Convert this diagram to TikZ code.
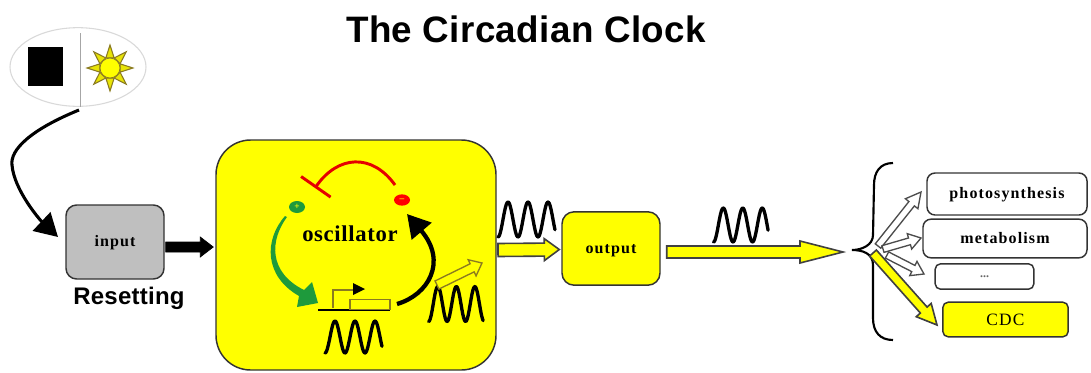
\documentclass[tikz,border=0pt]{standalone}
\usepackage{fontspec}
\setmainfont{Liberation Serif}
\newfontfamily\titlefont[LetterSpace=1]{Liberation Sans}
\newfontfamily\labfont[LetterSpace=7]{Liberation Serif}
\newfontfamily\oscfont[LetterSpace=3]{Liberation Serif}
\usetikzlibrary{calc,arrows.meta,shapes.geometric}
\definecolor{olive}{HTML}{8A7A20}
\definecolor{dgreen}{HTML}{1E9A3C}
\definecolor{oyellow}{HTML}{FFFF00}
\tikzset{
  boxbase/.style={draw=black!80,line width=1.1pt,inner sep=0pt,font=\labfont\bfseries\fontsize{12}{14}\selectfont},
  ybox/.style={boxbase,fill=oyellow},
  wbox/.style={boxbase,fill=white},
  wavy/.style={line width=2.5pt,line join=round,line cap=round},
  blockblack/.style={fill=black,draw=black,line width=.5pt},
  blockyellow/.style={fill=oyellow,draw=black!75,line width=1.2pt},
  blockwhite/.style={fill=white,draw=black!70,line width=1pt},
  blockolive/.style={fill=oyellow,draw=olive,line width=1pt},
  textlab/.style={inner sep=0pt},
}
\newcommand\lowered[1]{\raisebox{-3.5pt}[0pt][0pt]{#1}}
% from, to, half width, half head width, head length (px), style
\newcommand\blockarrow[6]{%
  \coordinate (hb) at ($(#2)!#5*0.75pt!(#1)$);
  \draw[#6] ($(#1)!#3*0.75pt!90:(#2)$) -- ($(hb)!#3*0.75pt!-90:(#1)$)
    -- ($(hb)!#4*0.75pt!-90:(#1)$) -- (#2) -- ($(hb)!#4*0.75pt!90:(#1)$)
    -- ($(hb)!#3*0.75pt!90:(#1)$) -- ($(#1)!#3*0.75pt!-90:(#2)$) -- cycle;
}
% valley x, centre y, period, amplitude, periods
\newcommand\wavecurve[5]{%
  \draw[wavy] plot[domain=0:#5,samples=70,smooth,variable=\t]
    ({#1+#3*\t},{#2+#4*cos(360*\t)});
}
\begin{document}
\begin{tikzpicture}[x=0.75pt,y=-0.75pt]
\useasboundingbox (0,0) rectangle (1091,372);
\fill[white] (0,0) rectangle (1091,372);

% title
\node[textlab,font=\titlefont\bfseries\fontsize{27.6}{30}\selectfont] (title) at (526,29) {The Circadian Clock};

% day / night
\node[ellipse,draw=black!15,fill=white,line width=.8pt,minimum width=102pt,minimum height=59pt,inner sep=0pt] (daynight) at (78,67) {};
\draw[black!35,line width=.7pt] (80,33) -- (80,107);
\node[fill=black,minimum width=26pt,minimum height=29pt,inner sep=0pt] (night) at (45.5,66.5) {};
\foreach \a in {0,45,...,315}{
  \fill[oyellow!80!olive,draw=olive,line width=.8pt] ($(110,68)+(\a-22:11)$) -- ($(110,68)+(\a:23)$) -- ($(110,68)+(\a+22:11)$) -- cycle;
}
\node[circle,fill=oyellow,draw=olive,line width=.6pt,minimum size=15pt,inner sep=0pt] (sun) at (110,68) {};

% input
\node[boxbase,fill=black!25,rounded corners=8pt,minimum width=73.5pt,minimum height=55.5pt] (input) at (115,242) {\lowered{input}};
\node[textlab,font=\titlefont\bfseries\fontsize{18}{20}\selectfont] (resetting) at (129,298) {Resetting};
\coordinate (lightstart) at (79,110);
\coordinate (lightend) at (58,237);
\draw[line width=2.3pt,-{Triangle[length=17pt,width=19pt]}] (lightstart) .. controls (30,130) and (10,150) .. (12,165) .. controls (14,190) and (40,220) .. (lightend);

% oscillator box
\node[ybox,rounded corners=26pt,minimum width=210pt,minimum height=172.5pt] (osc) at (356,255) {};
\node[textlab,font=\oscfont\bfseries\fontsize{17}{19}\selectfont] (osclabel) at (350,234) {oscillator};
\coordinate (inA) at ($(input.east)+(1,5)$);
\coordinate (inB) at ($(osc.west)+(-2,-8)$);
\blockarrow{inA}{inB}{5}{10}{13}{blockblack}

% regulatory loop
\node[ellipse,fill=red,text=oyellow,minimum width=12pt,minimum height=8.5pt,inner sep=0pt,font=\bfseries\fontsize{7}{7}\selectfont] (minus) at (402,200) {--};
\node[ellipse,fill=dgreen,text=oyellow,minimum width=12pt,minimum height=9pt,inner sep=0pt,font=\bfseries\fontsize{7}{7}\selectfont] (plus) at (297,207) {+};
\coordinate (redend) at (315,188);
\draw[red!90!black,line width=2.2pt,-{Bar[width=27pt,line width=2.2pt]}] (395,185) .. controls (372,153) and (338,155) .. (redend);
\fill[dgreen] (287,217) .. controls (270,240) and (268,272) .. (304,290) -- (312,282) -- (318,303) -- (297,307) -- (299,296) .. controls (264,276) and (264,240) .. (285,216) -- cycle;

% gene
\coordinate (geneL) at (318,310);
\coordinate (geneR) at (390,310);
\draw[line width=1pt] (geneL) -- (geneR);
\node[draw=olive,fill=oyellow,line width=1pt,minimum width=30pt,minimum height=7.5pt,inner sep=0pt] (gene) at (370,304.5) {};
\draw[olive,line width=1pt] (333,308) -- (333,290) -- (353,290);
\fill[black] (365,289) -- (353,283) -- (353,295) -- cycle;
\coordinate (blackstart) at (397,304);
\coordinate (blacktip) at (407,214);
\draw[line width=3.2pt,-{Triangle[length=17pt,width=19pt]}] (blackstart) .. controls (428,295) and (448,262) .. (blacktip);
\wavecurve{325}{337}{20}{16}{2.85}

% output of oscillator
\wavecurve{428.6}{304}{18.5}{17.5}{2.95}
\coordinate (hollowA) at (437,285);
\coordinate (hollowB) at (482,263);
\blockarrow{hollowA}{hollowB}{4.5}{9}{11}{blockolive}

% to output
\node[ybox,rounded corners=9pt,minimum width=73.5pt,minimum height=55pt] (output) at (611,248.5) {\lowered{output}};
\wavecurve{498}{219.5}{20}{17.5}{2.85}
\coordinate (outA) at (498,250);
\coordinate (outB) at ($(output.west)+(-2,1)$);
\blockarrow{outA}{outB}{6.5}{11}{15}{blockyellow}

% long arrow
\coordinate (longA) at ($(output.east)+(6,3.5)$);
\coordinate (longB) at (843,252);
\blockarrow{longA}{longB}{6}{11}{43}{blockyellow}
\wavecurve{713.5}{225}{19.5}{17}{2.8}

% targets
\node[wbox,rounded corners=6pt,minimum width=120pt,minimum height=31.5pt] (photo) at (1007,194) {\lowered{photosynthesis}};
\node[wbox,rounded corners=6pt,minimum width=123pt,minimum height=29pt] (metab) at (1005,238.5) {\lowered{metabolism}};
\node[wbox,rounded corners=4pt,minimum width=74pt,minimum height=19pt,font=\bfseries\fontsize{9}{10}\selectfont,text=black!60] (dots) at (984.5,276.5) {...};
\node[ybox,rounded corners=4pt,minimum width=94pt,minimum height=26pt,font=\labfont\fontsize{13}{14}\selectfont] (cdc) at (1005.5,319.5) {CDC};

% brace
\coordinate (bracetip) at (852,250);
\draw[line width=1.6pt] (893,163) .. controls (880,163) and (874,172) .. (874,185) -- (873,235) .. controls (873,245) and (862,250) .. (bracetip) .. controls (862,250) and (873,253) .. (873,265) -- (873,318) .. controls (873,332) and (880,340) .. (893,340);

% fan of arrows
\coordinate (fa) at (878,246);
\coordinate (fb) at (921,192);
\coordinate (fc) at (883,249);
\coordinate (fd) at (921,238);
\coordinate (fe) at (887,255);
\coordinate (ff) at (924,274);
\coordinate (fg) at (873,253);
\coordinate (fh) at (937,325);
\blockarrow{fa}{fb}{3.5}{8}{15}{blockwhite}
\blockarrow{fc}{fd}{3.5}{8}{12}{blockwhite}
\blockarrow{fe}{ff}{3.5}{8}{12}{blockwhite}
\blockarrow{fg}{fh}{4.5}{10}{20}{blockyellow}
\end{tikzpicture}
\end{document}
